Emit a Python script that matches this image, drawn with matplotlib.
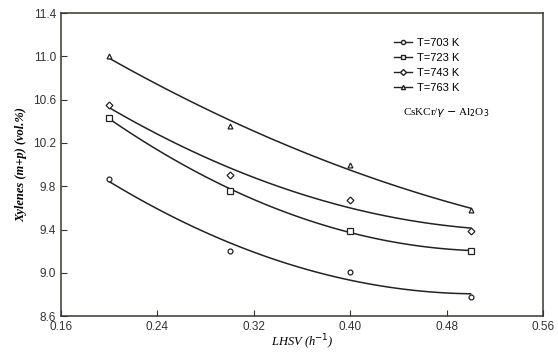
import numpy as np
import matplotlib
matplotlib.use('Agg')
import matplotlib.pyplot as plt

## DATA

lhsv = [0.2, 0.3, 0.4, 0.5]
x703 = [9.87, 9.20, 9.01, 8.78]
x723 = [10.43, 9.76, 9.39, 9.20]
x743 = [10.55, 9.90, 9.67, 9.39]
x763 = [11.00, 10.36, 10.00, 9.58]

temps = ['T=703 K', 'T=723 K', 'T=743 K', 'T=763 K']
markers = ['o', 's', 'D', '^']
msizes = [3.5, 4.5, 3.5, 3.5]
series = [x703, x723, x743, x763]

xticks = [0.16, 0.24, 0.32, 0.40, 0.48, 0.56]
yticks = [8.6, 9.0, 9.4, 9.8, 10.2, 10.6, 11.0, 11.4]

plt.rcParams['font.family'] = ['Liberation Sans', 'DejaVu Sans']

fig = plt.figure(figsize=(5.58, 3.52), dpi=100)
ax = fig.add_axes([0.109, 0.102, 0.864, 0.861])

xs = np.linspace(0.2, 0.5, 100)
for y, m, ms, lab in zip(series, markers, msizes, temps):
    # quadratic trend line through the points, like the original
    p = np.polyfit(lhsv, y, 2)
    ax.plot(xs, np.polyval(p, xs), color='#222222', lw=1.1)
    ax.plot(lhsv, y, linestyle='none', marker=m, ms=ms, mfc='white',
            mec='#222222', mew=0.9)
    ax.plot([], [], color='#222222', lw=1.0, marker=m, ms=3, mfc='white',
            mec='#222222', label=lab)

ax.set_xlim(0.16, 0.56)
ax.set_ylim(8.6, 11.4)
ax.set_xticks(xticks)
ax.set_xticklabels(['%.2f' % v for v in xticks])
ax.set_yticks(yticks)
ax.set_yticklabels(['%.1f' % v for v in yticks])
ax.tick_params(direction='in', length=4, labelsize=8.5, colors='#333333')
for s in ax.spines.values():
    s.set_color('#3a3530')
    s.set_linewidth(1.1)

ax.set_xlabel('LHSV (h$^{-1}$)', family='Liberation Serif', style='italic',
              fontsize=9, labelpad=0)
ax.set_ylabel('Xylenes (m+p) (vol.%)', family='Liberation Serif',
              style='italic', fontweight='bold', fontsize=9, labelpad=4)

leg = ax.legend(loc='upper left', bbox_to_anchor=(0.67, 0.95), frameon=False,
                fontsize=8, handlelength=1.6, labelspacing=0.45,
                handletextpad=0.5)
ax.text(0.71, 0.665, 'CsKCr/$\\gamma$ $-$ Al$_2$O$_3$', transform=ax.transAxes,
        family='Liberation Serif', fontsize=8)

plt.savefig('out.png', dpi=100)
